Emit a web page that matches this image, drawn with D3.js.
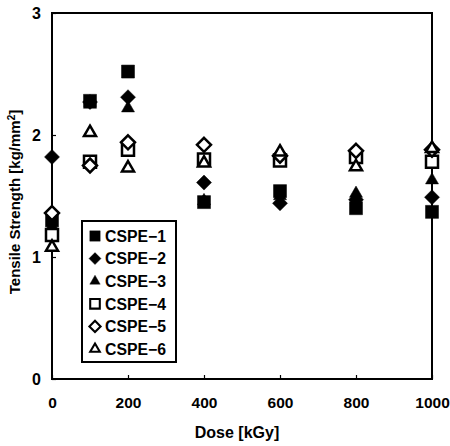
<!DOCTYPE html>
<html>
<head>
<meta charset="utf-8">
<script src="https://cdn.jsdelivr.net/npm/d3@7"></script>
<style>
  html, body { margin: 0; padding: 0; background: #fff; }
  svg text { font-family: "Liberation Sans", Arial, sans-serif; font-weight: bold; fill: #000; }
</style>
</head>
<body>
<svg id="chart" width="450" height="446"></svg>
<script>
// Irradiation dose levels [kGy]
const doses = [0, 100, 200, 400, 600, 800, 1000];

// Tensile strength [kg/mm²] for each compound at each dose
const cspe1 = [1.30, 2.28, 2.52, 1.45, 1.54, 1.40, 1.37];
const cspe2 = [1.82, 2.27, 2.31, 1.61, 1.44, 1.47, 1.49];
const cspe3 = [1.25, 2.25, 2.22, 1.46, 1.50, 1.52, 1.63];
const cspe4 = [1.18, 1.78, 1.88, 1.80, 1.79, 1.82, 1.78];
const cspe5 = [1.36, 1.75, 1.94, 1.92, 1.83, 1.87, 1.88];
const cspe6 = [1.08, 2.02, 1.73, 1.77, 1.86, 1.74, 1.89];

const seriesNames = ["CSPE−1", "CSPE−2", "CSPE−3", "CSPE−4", "CSPE−5", "CSPE−6"];
const seriesValues = [cspe1, cspe2, cspe3, cspe4, cspe5, cspe6];

const xTicks = [0, 200, 400, 600, 800, 1000];
const yTicks = [0, 1, 2, 3];

// Marker style per series: shape and whether it is filled
const markerShapes = ["square", "diamond", "triangle", "square", "diamond", "triangle"];
const markerFilled = [true, true, true, false, false, false];

const svg = d3.select("#chart");
const margin = { left: 52, right: 18, top: 13, bottom: 67 };
const W = 450, H = 446;

const x = d3.scaleLinear().domain([0, 1000]).range([margin.left, W - margin.right]);
const y = d3.scaleLinear().domain([0, 3]).range([H - margin.bottom, margin.top]);

// Marker path generators
function markerPath(shape, filled) {
  const p = d3.path();
  if (shape === "square") {
    const h = filled ? 6.5 : 6;
    p.rect(-h, -h, 2 * h, 2 * h);
  } else if (shape === "diamond") {
    const h = filled ? 7.5 : 7;
    p.moveTo(0, -h); p.lineTo(h, 0); p.lineTo(0, h); p.lineTo(-h, 0); p.closePath();
  } else {
    const s = filled ? 13 : 12;
    const ht = s * Math.sqrt(3) / 2;
    p.moveTo(0, -ht * 2 / 3); p.lineTo(s / 2, ht / 3); p.lineTo(-s / 2, ht / 3); p.closePath();
  }
  return p.toString();
}

// Plot frame
svg.append("rect")
  .attr("x", x(0)).attr("y", y(3))
  .attr("width", x(1000) - x(0)).attr("height", y(0) - y(3))
  .attr("fill", "none").attr("stroke", "#000").attr("stroke-width", 2);

// Bottom axis (ticks point inward)
const xAxis = d3.axisBottom(x).tickValues(xTicks).tickFormat(d3.format("d"))
  .tickSizeInner(-4).tickSizeOuter(0).tickPadding(18);
const gx = svg.append("g").attr("transform", `translate(0,${y(0)})`).call(xAxis);
gx.select(".domain").remove();
gx.selectAll(".tick line").attr("stroke", "#000").attr("stroke-width", 1.2);
gx.selectAll("text").attr("font-size", 15.5).attr("dy", "0.71em");

// Left axis (ticks point inward)
const yAxis = d3.axisLeft(y).tickValues(yTicks).tickFormat(d3.format("d"))
  .tickSizeInner(-4).tickSizeOuter(0).tickPadding(11);
const gy = svg.append("g").attr("transform", `translate(${x(0)},0)`).call(yAxis);
gy.select(".domain").remove();
gy.selectAll(".tick line").attr("stroke", "#000").attr("stroke-width", 1.2);
gy.selectAll("text").attr("font-size", 16);

// Axis titles
svg.append("text")
  .attr("x", 237).attr("y", 438)
  .attr("text-anchor", "middle").attr("font-size", 16)
  .text("Dose [kGy]");

const yTitle = svg.append("text")
  .attr("transform", `translate(20,202) rotate(-90)`)
  .attr("text-anchor", "middle").attr("font-size", 15);
yTitle.append("tspan").text("Tensile Strength [kg/mm");
yTitle.append("tspan").attr("baseline-shift", "super").attr("font-size", 10).text("2");
yTitle.append("tspan").text("]");

// Data markers, one group per series drawn in order
seriesValues.forEach((vals, si) => {
  svg.append("g")
    .selectAll("path")
    .data(vals.map((v, i) => ({ dose: doses[i], value: v })))
    .join("path")
    .attr("transform", d => `translate(${x(d.dose)},${y(d.value)})`)
    .attr("d", markerPath(markerShapes[si], markerFilled[si]))
    .attr("fill", markerFilled[si] ? "#000" : "#fff")
    .attr("stroke", "#000")
    .attr("stroke-width", markerFilled[si] ? 0.5 : 2.5)
    .attr("stroke-linejoin", "miter");
});

// Legend box
const legend = svg.append("g");
legend.append("rect")
  .attr("x", 82).attr("y", 221).attr("width", 94).attr("height", 141)
  .attr("fill", "#fff").attr("stroke", "#000").attr("stroke-width", 2);

const legendY = d3.scalePoint().domain(seriesNames).range([236, 349]);
const items = legend.selectAll("g.item").data(seriesNames).join("g")
  .attr("class", "item")
  .attr("transform", d => `translate(95,${legendY(d)})`);
items.append("path")
  .attr("d", (d, i) => markerPath(markerShapes[i], markerFilled[i]))
  .attr("transform", "scale(0.8)")
  .attr("fill", (d, i) => markerFilled[i] ? "#000" : "#fff")
  .attr("stroke", "#000")
  .attr("stroke-width", (d, i) => markerFilled[i] ? 0.5 : 2.6);
items.append("text")
  .attr("x", 10).attr("dy", "0.36em")
  .attr("font-size", 16)
  .attr("textLength", 61).attr("lengthAdjust", "spacingAndGlyphs")
  .text(d => d);
</script>
</body>
</html>
